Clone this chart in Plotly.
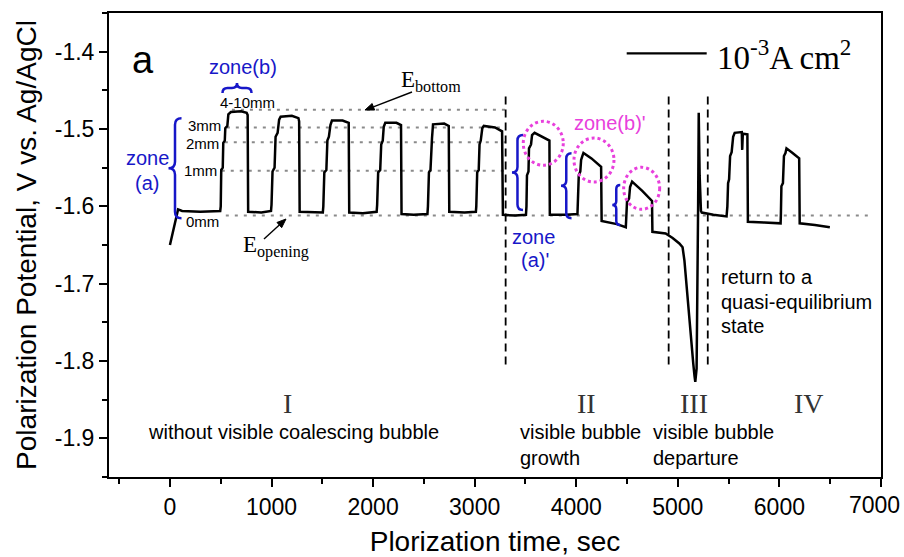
import math
import plotly.graph_objects as go

# ---------------- data ----------------
time_s = [
    0, 40, 80, 120, 300, 495,
    500, 505, 520, 525, 540, 545, 565, 575, 600, 700, 755, 765,
    770, 900, 995,
    1000, 1010, 1030, 1040, 1060, 1075, 1090, 1200, 1265, 1272,
    1277, 1400, 1505,
    1510, 1520, 1540, 1550, 1565, 1580, 1595, 1700, 1760,
    1765, 1900, 2035,
    2040, 2050, 2070, 2080, 2095, 2105, 2120, 2230, 2275,
    2280, 2400, 2535,
    2540, 2550, 2565, 2572, 2580, 2590, 2700, 2745,
    2750, 2900, 3012,
    3016, 3025, 3040, 3048, 3060, 3075, 3090, 3200, 3270,
    3278, 3400, 3505,
    3510, 3515, 3530, 3535, 3555, 3565, 3590, 3650, 3736,
    3740, 3900, 4012,
    4015, 4025, 4040, 4048, 4060, 4071, 4150, 4245,
    4250, 4400, 4488,
    4492, 4500, 4520, 4530, 4550, 4650, 4746,
    4750, 4880, 4949, 5015, 5047, 5065, 5080, 5100, 5120, 5140, 5152, 5165, 5172,
    5185, 5195, 5200, 5206, 5215, 5228, 5236,
    5350, 5480,
    5488, 5495, 5505, 5515, 5530, 5545, 5560, 5630, 5634, 5640, 5685,
    5690, 5850, 6012,
    6015, 6020, 6035, 6045, 6060, 6070, 6130, 6195,
    6200, 6350, 6497,
]
potential_V = [
    -1.650, -1.625, -1.604, -1.606, -1.607, -1.606,
    -1.600, -1.553, -1.550, -1.518, -1.515, -1.499, -1.496, -1.481, -1.478, -1.477, -1.479, -1.482,
    -1.607, -1.608, -1.606,
    -1.598, -1.555, -1.550, -1.510, -1.505, -1.488, -1.484, -1.483, -1.486, -1.490,
    -1.607, -1.608, -1.608,
    -1.600, -1.556, -1.553, -1.515, -1.510, -1.495, -1.489, -1.489, -1.492,
    -1.608, -1.609, -1.607,
    -1.598, -1.556, -1.553, -1.520, -1.515, -1.497, -1.492, -1.492, -1.495,
    -1.610, -1.611, -1.610,
    -1.600, -1.556, -1.553, -1.517, -1.512, -1.494, -1.493, -1.496,
    -1.607, -1.608, -1.607,
    -1.600, -1.556, -1.553, -1.520, -1.515, -1.499, -1.496, -1.498, -1.503,
    -1.611, -1.612, -1.611,
    -1.600, -1.560, -1.555, -1.525, -1.520, -1.508, -1.505, -1.509, -1.515,
    -1.611, -1.611, -1.610,
    -1.600, -1.560, -1.555, -1.540, -1.535, -1.531, -1.538, -1.549,
    -1.619, -1.623, -1.627,
    -1.615, -1.594, -1.590, -1.575, -1.568, -1.580, -1.593,
    -1.633, -1.635, -1.641, -1.648, -1.653, -1.670, -1.695, -1.725, -1.760, -1.785, -1.803, -1.820, -1.827,
    -1.810, -1.700, -1.600, -1.479, -1.560, -1.606, -1.608,
    -1.611, -1.613,
    -1.600, -1.570, -1.565, -1.535, -1.530, -1.510, -1.505, -1.504, -1.527, -1.506, -1.507,
    -1.620, -1.621, -1.622,
    -1.610, -1.574, -1.570, -1.535, -1.531, -1.525, -1.531, -1.538,
    -1.622, -1.624, -1.627,
]

# horizontal guide levels (dotted grey)
level_values = [-1.475, -1.498, -1.517, -1.554, -1.612]
level_start = [610, 560, 540, 510, 550]
level_end = [3300, 3300, 3300, 3295, 6880]

# stage boundaries (dashed vertical lines)
stage_bounds = [3305, 4910, 5295]
stage_bound_top = -1.458
stage_bound_bottom = -1.805

x_ticks = [0, 1000, 2000, 3000, 4000, 5000, 6000, 7000]
x_ticktext = ["0", "1000", "2000", "3000", "4000", "5000", "6000", "7000"]
y_ticks = [-1.9, -1.8, -1.7, -1.6, -1.5, -1.4]
y_ticktext = ["-1.9", "-1.8", "-1.7", "-1.6", "-1.5", "-1.4"]

# ---------------- layout geometry ----------------
W, H = 904, 557
ML, MR, MT, MB = 109, 23, 13, 80
X0, X1 = -600, 7000
Y0, Y1 = -1.95, -1.35
PW, PH = W - ML - MR, H - MT - MB


def px2x(px):
    return X0 + (px - ML) / PW * (X1 - X0)


def py2y(py):
    return Y1 - (py - MT) / PH * (Y1 - Y0)


SANS = "Arial, Liberation Sans, sans-serif"
SERIF = "Times New Roman, Liberation Serif, serif"
BLUE = "#1717c8"
PINK = "#e840dc"

fig = go.Figure()

for v, a, b in zip(level_values, level_start, level_end):
    fig.add_trace(go.Scatter(x=[a, b], y=[v, v], mode="lines",
                             line=dict(color="#8a8a8a", width=2, dash="3px,6px"),
                             showlegend=False, hoverinfo="skip"))

for xb in stage_bounds:
    fig.add_trace(go.Scatter(x=[xb, xb], y=[stage_bound_top, stage_bound_bottom], mode="lines",
                             line=dict(color="black", width=1.8, dash="8px,5px"),
                             showlegend=False, hoverinfo="skip"))

fig.add_trace(go.Scatter(x=time_s, y=potential_V, mode="lines",
                         line=dict(color="black", width=2.5),
                         name="10<sup>-3</sup>A cm<sup>2</sup>", showlegend=False))

shapes = []


def vbrace(px, py, w, h, color=BLUE):
    # "{" brace, tip on the left; (px,py) = centre
    r = min(w / 2, h / 4)
    p = (f"M {w/2},{h/2} Q 0,{h/2} 0,{h/2 - r} L 0,{r} Q 0,0 {-w/2},0 "
         f"Q 0,0 0,{-r} L 0,{-h/2 + r} Q 0,{-h/2} {w/2},{-h/2}")
    shapes.append(dict(type="path", xsizemode="pixel", ysizemode="pixel",
                       xanchor=px2x(px), yanchor=py2y(py), path=p,
                       line=dict(color=color, width=2.5)))


def hbrace(px, py, w, h, color=BLUE):
    # brace with tip up, arms down; (px,py) = centre
    r = min(h / 2, w / 4)
    p = (f"M {-w/2},{-h/2} Q {-w/2},0 {-w/2 + r},0 L {-r},0 Q 0,0 0,{h/2} "
         f"Q 0,0 {r},0 L {w/2 - r},0 Q {w/2},0 {w/2},{-h/2}")
    shapes.append(dict(type="path", xsizemode="pixel", ysizemode="pixel",
                       xanchor=px2x(px), yanchor=py2y(py), path=p,
                       line=dict(color=color, width=2.5)))


def circ(px, py, rx, ry):
    shapes.append(dict(type="circle", xsizemode="pixel", ysizemode="pixel",
                       xanchor=px2x(px), yanchor=py2y(py),
                       x0=-rx, x1=rx, y0=-ry, y1=ry,
                       line=dict(color=PINK, width=3, dash="3px,3px")))


def arrow_shape(hx, hy, tx, ty, head_len=9, head_half=3.5):
    # arrow from tail (tx,ty) to head (hx,hy), screen pixel positions
    dx, dy = hx - tx, hy - ty
    L = math.hypot(dx, dy)
    ux, uy = dx / L, dy / L
    bx, by = hx - head_len * ux, hy - head_len * uy
    shapes.append(dict(type="line", xref="x", yref="y",
                       x0=px2x(tx), y0=py2y(ty), x1=px2x(bx), y1=py2y(by),
                       line=dict(color="black", width=1.4)))
    vx, vy = ux, -uy
    nx, ny = -vy, vx
    p1 = (-head_len * vx + head_half * nx, -head_len * vy + head_half * ny)
    p2 = (-head_len * vx - head_half * nx, -head_len * vy - head_half * ny)
    path = f"M 0,0 L {p1[0]:.2f},{p1[1]:.2f} L {p2[0]:.2f},{p2[1]:.2f} Z"
    shapes.append(dict(type="path", xsizemode="pixel", ysizemode="pixel",
                       xanchor=px2x(hx), yanchor=py2y(hy), path=path,
                       fillcolor="black", line=dict(color="black", width=1)))


vbrace(175, 168.3, 13, 100)
hbrace(237, 88, 29, 10)
vbrace(517.5, 172.5, 11, 75)
vbrace(566.3, 185.8, 10.5, 65)
vbrace(616.3, 205, 8, 40)
circ(543.3, 143.3, 20, 22)
circ(594, 160, 20, 22)
circ(641.7, 188.3, 18, 21)
arrow_shape(365, 110, 412, 92)
arrow_shape(286, 219, 264, 239)

# legend sample line
shapes.append(dict(type="line", xref="paper", yref="paper",
                   x0=(626.7 - ML) / PW, x1=(706.7 - ML) / PW,
                   y0=1 - (53.3 - MT) / PH, y1=1 - (53.3 - MT) / PH,
                   line=dict(color="black", width=2.2)))

ann = []


def txt(s, px, py, size=20, color="black", family=SANS, xanchor="center", yanchor="middle"):
    ann.append(dict(text=s, x=px2x(px), y=py2y(py), xref="x", yref="y",
                    showarrow=False, xanchor=xanchor, yanchor=yanchor,
                    font=dict(size=size, color=color, family=family)))


txt("a", 143, 60, size=38)
txt("zone(b)", 243, 67, color=BLUE)
txt("4-10mm", 248, 102, size=15)
txt("3mm", 204.5, 125, size=15)
txt("2mm", 202.5, 143.5, size=15)
txt("1mm", 200.5, 170.5, size=15)
txt("0mm", 202.5, 221.5, size=15)
txt("zone", 147, 158, color=BLUE)
txt("(a)", 147, 183, color=BLUE)
txt("E<sub>bottom</sub>", 399, 81, size=23, family=SERIF, xanchor="left")
txt("E<sub>opening</sub>", 241, 246, size=23, family=SERIF, xanchor="left")
txt("zone(b)'", 610, 123, color=PINK)
txt("zone", 533.5, 236.5, color=BLUE)
txt("(a)'", 535, 260, color=BLUE)
txt("return to a", 719, 276.5, xanchor="left")
txt("quasi-equilibrium", 719, 301.5, xanchor="left")
txt("state", 719, 326, xanchor="left")
txt("10<sup>-3</sup>A cm<sup>2</sup>", 715, 55, size=33, family=SERIF, xanchor="left")
for lab, px in zip(["I", "II", "III", "IV"], [288, 587, 694, 809]):
    txt(lab, px, 403, size=28, family=SERIF, color="#333333")
txt("without visible coalescing bubble", 146, 432, xanchor="left")
txt("visible bubble", 518, 432, xanchor="left")
txt("growth", 518, 458, xanchor="left")
txt("visible bubble", 651, 432, xanchor="left")
txt("departure", 651, 458, xanchor="left")

# last x tick label sits at the page edge: draw it right-aligned so it is not clipped
last_label_py = 505
ann.append(dict(text=x_ticktext[-1], x=(902 - ML) / PW, y=1 - (last_label_py - MT) / PH,
                xref="paper", yref="paper", showarrow=False,
                xanchor="right", yanchor="middle",
                font=dict(size=23, family=SANS, color="black")))
shown_ticktext = x_ticktext[:-1] + [""]

axis_common = dict(showgrid=False, zeroline=False, showline=True, linewidth=2,
                   linecolor="black", mirror=True, ticks="outside", ticklen=8,
                   tickwidth=2, tickcolor="black",
                   automargin=False,
                   tickfont=dict(size=23, family=SANS, color="black"))

fig.update_layout(
    width=W, height=H,
    margin=dict(l=ML, r=MR, t=MT, b=MB, autoexpand=False),
    paper_bgcolor="white", plot_bgcolor="white",
    shapes=shapes, annotations=ann,
    xaxis=dict(range=[X0, X1 + 0.5], tickvals=x_ticks, ticktext=shown_ticktext,
               minor=dict(tickvals=[-500, 500, 1500, 2500, 3500, 4500, 5500, 6500],
                          ticks="outside", ticklen=5, tickwidth=2, tickcolor="black"),
               title=dict(text="Plorization time, sec", font=dict(size=28, family=SANS, color="black"),
                          standoff=14),
               **axis_common),
    yaxis=dict(range=[Y0, Y1], tickvals=y_ticks, ticktext=y_ticktext,
               minor=dict(tickvals=[-1.95, -1.85, -1.75, -1.65, -1.55, -1.45, -1.35],
                          ticks="outside", ticklen=5, tickwidth=2, tickcolor="black"),
               title=dict(text="Polarization Potential, V vs. Ag/AgCl",
                          font=dict(size=28, family=SANS, color="black"), standoff=10),
               **axis_common),
)

fig.write_html("out.html")
